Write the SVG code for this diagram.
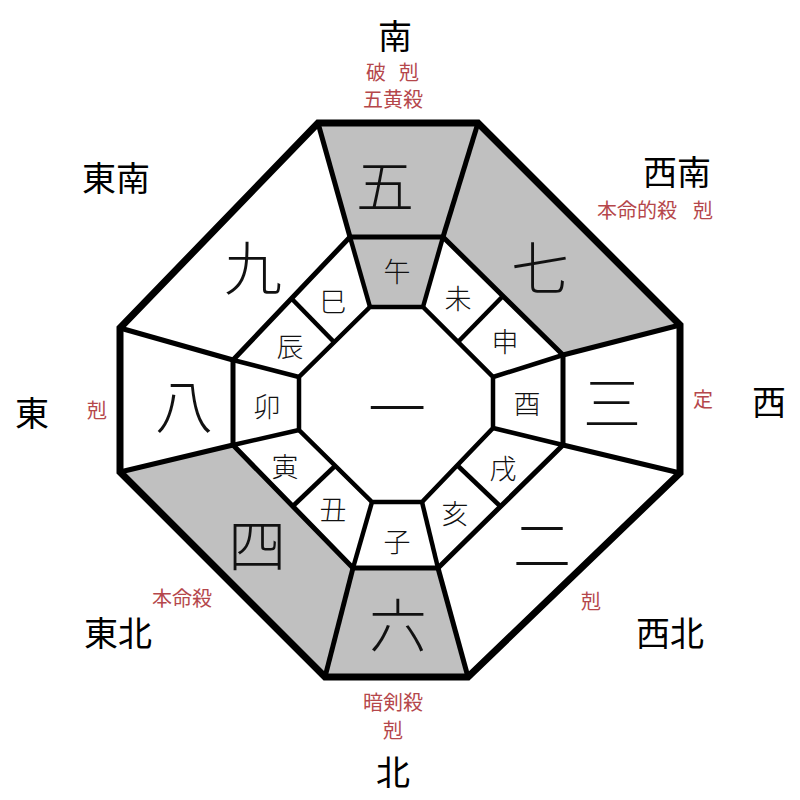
<svg xmlns="http://www.w3.org/2000/svg" width="800" height="800" viewBox="0 0 800 800">
<style>
.ln{fill:none;stroke:#000;stroke-linejoin:miter}
.g{fill:#c0c0c0}
.big{font-family:"Noto Sans CJK JP",sans-serif;font-size:58px;font-weight:300;fill:#111;text-anchor:middle;dominant-baseline:central}
.br{font-family:"Noto Sans CJK JP",sans-serif;font-size:27px;font-weight:300;fill:#111;text-anchor:middle;dominant-baseline:central}
.dir{font-family:"Noto Sans CJK JP",sans-serif;font-size:34px;fill:#000;text-anchor:middle;dominant-baseline:central}
.red{font-family:"Noto Sans CJK JP",sans-serif;font-size:20px;fill:#b5474b;text-anchor:middle;dominant-baseline:central}
</style>
<rect width="800" height="800" fill="#fff"/>
<g id="fills">
<polygon class="g" points="318,123 478,123 443,237 350,237"/>
<polygon class="g" points="350,237 443,237 423,307 370,307"/>
<polygon class="g" points="478,123 680,325 563,355 443,237"/>
<polygon class="g" points="120,472 233,445 353,568 325,677"/>
<polygon class="g" points="353,568 438,568 468,677 325,677"/>
</g>
<g id="connectors">
<polygon class="ln" stroke-width="5" points="350,237 443,237 563,355 563,445 438,568 353,568 233,445 233,360"/>
<polygon class="ln" stroke-width="4.5" points="370,307 423,307 493,377 493,428 422,502 372,502 299,430 299,377"/>
<g stroke="#000" stroke-width="5">
<line x1="318" y1="123" x2="350" y2="237"/>
<line x1="478" y1="123" x2="443" y2="237"/>
<line x1="680" y1="325" x2="563" y2="355"/>
<line x1="680" y1="473" x2="563" y2="445"/>
<line x1="468" y1="677" x2="438" y2="568"/>
<line x1="325" y1="677" x2="353" y2="568"/>
<line x1="120" y1="472" x2="233" y2="445"/>
<line x1="120" y1="328" x2="233" y2="360"/>
</g>
<g stroke="#000" stroke-width="4.5">
<line x1="350" y1="237" x2="370" y2="307"/>
<line x1="443" y1="237" x2="423" y2="307"/>
<line x1="563" y1="355" x2="493" y2="377"/>
<line x1="563" y1="445" x2="493" y2="428"/>
<line x1="438" y1="568" x2="422" y2="502"/>
<line x1="353" y1="568" x2="372" y2="502"/>
<line x1="233" y1="445" x2="299" y2="430"/>
<line x1="233" y1="360" x2="299" y2="377"/>
<line x1="291" y1="298" x2="334" y2="342"/>
<line x1="503" y1="296" x2="458" y2="342"/>
<line x1="500" y1="506" x2="457" y2="465"/>
<line x1="293" y1="506" x2="335" y2="466"/>
</g>
<polygon class="ln" stroke-width="7" points="318,123 478,123 680,325 680,473 468,677 325,677 120,472 120,328"/>
</g>
<g id="n-center"><text class="big" x="397" y="405">一</text></g>
<g id="n-5"><text class="big" x="385" y="183">五</text></g>
<g id="n-7"><text class="big" x="540" y="265">七</text></g>
<g id="n-3"><text class="big" x="612" y="400">三</text></g>
<g id="n-2"><text class="big" x="542" y="542">二</text></g>
<g id="n-6"><text class="big" x="398" y="622">六</text></g>
<g id="n-4"><text class="big" x="257" y="542">四</text></g>
<g id="n-8"><text class="big" x="184" y="403">八</text></g>
<g id="n-9"><text class="big" x="253" y="265">九</text></g>
<g id="branches">
<text class="br" x="397" y="270">午</text>
<text class="br" x="458" y="297">未</text>
<text class="br" x="505" y="340">申</text>
<text class="br" x="527" y="402">酉</text>
<text class="br" x="503" y="467">戌</text>
<text class="br" x="455" y="512">亥</text>
<text class="br" x="397" y="540">子</text>
<text class="br" x="333" y="508">丑</text>
<text class="br" x="285" y="465">寅</text>
<text class="br" x="267" y="405">卯</text>
<text class="br" x="290" y="345">辰</text>
<text class="br" x="333" y="300">巳</text>
</g>
<g id="directions">
<text class="dir" x="395" y="34">南</text>
<text class="dir" x="116" y="176">東南</text>
<text class="dir" x="677" y="170">西南</text>
<text class="dir" x="32" y="411">東</text>
<text class="dir" x="769" y="400">西</text>
<text class="dir" x="118" y="631">東北</text>
<text class="dir" x="670" y="631">西北</text>
<text class="dir" x="393" y="770">北</text>
</g>
<g id="notes">
<text class="red" x="376" y="71">破</text>
<text class="red" x="409" y="71">剋</text>
<text class="red" x="393" y="98">五黄殺</text>
<text class="red" x="637" y="209">本命的殺</text>
<text class="red" x="703" y="209">剋</text>
<text class="red" x="97" y="409">剋</text>
<text class="red" x="703" y="398">定</text>
<text class="red" x="182" y="597">本命殺</text>
<text class="red" x="591" y="600">剋</text>
<text class="red" x="393" y="701">暗剣殺</text>
<text class="red" x="393" y="729">剋</text>
</g>
</svg>
